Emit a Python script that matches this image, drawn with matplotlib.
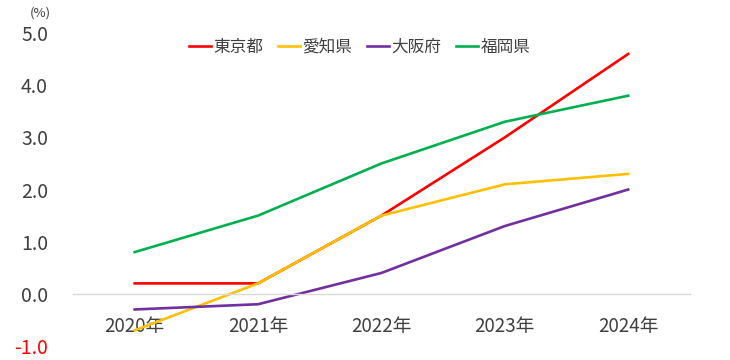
import matplotlib
matplotlib.use("Agg")
import matplotlib.pyplot as plt

plt.rcParams['font.family'] = ['Noto Sans CJK JP', 'DejaVu Sans']

years = ["2020年", "2021年", "2022年", "2023年", "2024年"]
tokyo = [0.2, 0.2, 1.5, 3.0, 4.6]
aichi = [-0.7, 0.2, 1.5, 2.1, 2.3]
osaka = [-0.3, -0.2, 0.4, 1.3, 2.0]
fukuoka = [0.8, 1.5, 2.5, 3.3, 3.8]
series_names = ["東京都", "愛知県", "大阪府", "福岡県"]
yticks = [-1.0, 0.0, 1.0, 2.0, 3.0, 4.0, 5.0]

colors = ["#FF0000", "#FFC000", "#7030A0", "#00B050"]

fig = plt.figure(figsize=(7.3, 3.6), dpi=100)
ax = fig.add_axes([0.1, 0.039, 0.845, 0.869])

x = list(range(len(years)))
for vals, name, c in zip([tokyo, aichi, osaka, fukuoka], series_names, colors):
    ax.plot(x, vals, color=c, lw=1.9, label=name, solid_joinstyle='round')

ax.set_xlim(-0.5, len(years) - 0.5)
ax.set_ylim(-1.0, 5.0)
ax.set_yticks(yticks)
ax.set_yticklabels([f"{v:.1f}" for v in yticks])
for lab, v in zip(ax.get_yticklabels(), yticks):
    lab.set_color("#FF0000" if v < 0 else "#404040")
ax.tick_params(axis='y', length=0, pad=18, labelsize=14)

ax.set_xticks(x)
ax.set_xticklabels(years)
ax.tick_params(axis='x', length=0, pad=16, labelsize=13.5, labelcolor="#404040")

for s in ['top', 'right', 'left']:
    ax.spines[s].set_visible(False)
ax.spines['bottom'].set_position(('data', 0))
ax.spines['bottom'].set_color("#D9D9D9")
ax.spines['bottom'].set_linewidth(1.0)

fig.text(40 / 730, 1 - 13 / 360, "(%)", ha='center', va='center', fontsize=9.5, color="#404040")

leg = fig.legend(loc='center', bbox_to_anchor=(0.493, 0.869), ncol=4, frameon=False,
                 fontsize=12, handlelength=1.3, handletextpad=0.15, columnspacing=0.9)
for t in leg.get_texts():
    t.set_color("#404040")

fig.savefig("out.png", dpi=100)
